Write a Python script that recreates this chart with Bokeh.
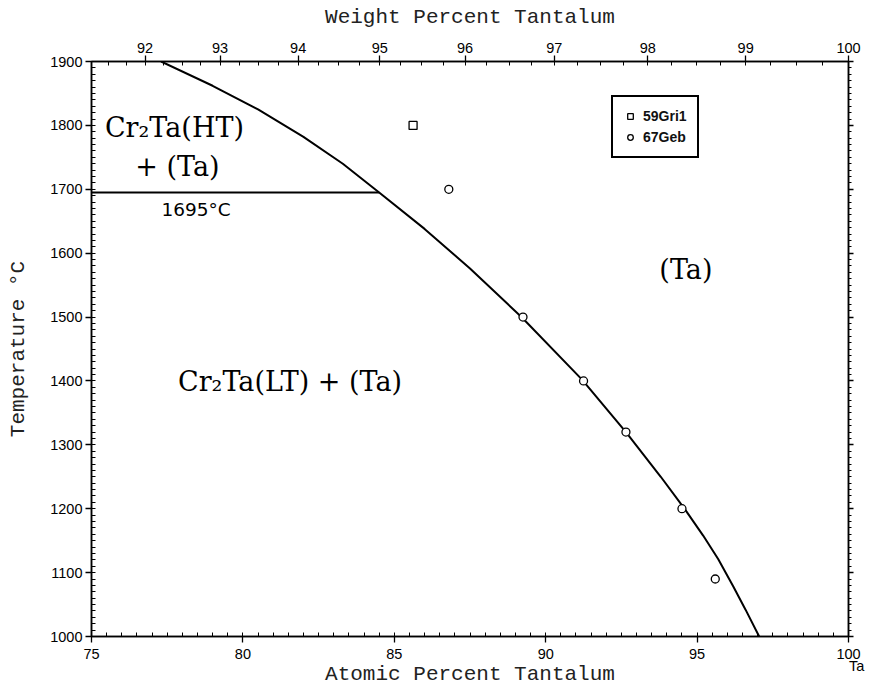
from bokeh.plotting import figure
from bokeh.models import (LinearAxis, FixedTicker, Legend, LegendItem,
                          Range1d, SingleIntervalTicker, CustomJSTickFormatter)
from bokeh.core.properties import value
from bokeh.embed import file_html
from bokeh.resources import INLINE

# ---- data ----
boundary_at = [77.3, 79.0, 80.5, 82.0, 83.3, 84.5, 86.0, 87.5, 89.2, 91.2, 92.65, 93.8, 94.6, 95.2, 95.7, 96.2, 96.6, 97.05]
boundary_T = [1900, 1862, 1825, 1782, 1740, 1695, 1638, 1576, 1500, 1402, 1320, 1250, 1199, 1158, 1121, 1078, 1042, 1000]

eutectoid_at = [75.0, 84.5]
eutectoid_T = [1695, 1695]

gri_at = [85.62]
gri_T = [1800]

geb_at = [86.8, 89.25, 91.25, 92.65, 94.5, 95.6]
geb_T = [1700, 1500, 1400, 1320, 1200, 1090]

at_major = [75, 80, 85, 90, 95, 100]
at_labels = ["75", "80", "85", "90", "95", "100\n\u00a0\u00a0\u00a0\u00a0Ta"]

wt_major = [92, 93, 94, 95, 96, 97, 98, 99, 100]
wt_minor = [91.5 + 0.25 * i for i in range(0, 35)]

M_TA = 180.95
M_CR = 52.00


def wt_to_at(w):
    a = w / M_TA
    b = (100.0 - w) / M_CR
    return 100.0 * a / (a + b)


SERIF = "DejaVu Serif"
MONO = "Liberation Mono"
TICKF = "Liberation Sans"
FRAME_W = 757
FRAME_H = 575

p = figure(frame_width=FRAME_W, frame_height=FRAME_H, output_backend="svg", toolbar_location=None,
           x_range=Range1d(75, 100), y_range=Range1d(1000, 1900),
           min_border_left=91, min_border_right=20, min_border_top=61, min_border_bottom=46,
           x_axis_location=None, y_axis_location=None)
p.grid.visible = False
p.outline_line_color = "black"
p.outline_line_width = 1.5
p.background_fill_color = "white"
p.border_fill_color = "white"


def style(ax, tick_out=6, minor_in=4, minor_out=0, label_standoff=3, axis_standoff=4):
    ax.axis_line_color = "black"
    ax.axis_line_width = 1.5
    ax.major_tick_line_color = "black"
    ax.major_tick_line_width = 1.3
    ax.minor_tick_line_color = "black"
    ax.major_tick_out = tick_out
    ax.major_tick_in = 0
    ax.minor_tick_in = minor_in
    ax.minor_tick_out = minor_out
    ax.major_label_text_font = TICKF
    ax.major_label_text_font_size = "14.5px"
    ax.major_label_text_color = "black"
    ax.axis_label_text_font = MONO
    ax.axis_label_text_font_size = "21px"
    ax.axis_label_text_font_style = "normal"
    ax.axis_label_text_color = "#222222"
    ax.major_label_standoff = label_standoff
    ax.axis_label_standoff = axis_standoff


at_minor = [75 + 0.5 * i for i in range(0, 51)]
bottom = LinearAxis(axis_label="Atomic Percent Tantalum",
                    ticker=FixedTicker(ticks=at_major, minor_ticks=at_minor))
bottom.major_label_overrides = {t: s for t, s in zip(at_major, at_labels)}
style(bottom, label_standoff=3, axis_standoff=-14)
bottom.major_label_text_line_height = 0.8
p.add_layout(bottom, "below")

left = LinearAxis(axis_label="Temperature °C",
                  ticker=SingleIntervalTicker(interval=100, num_minor_ticks=10))
style(left, axis_standoff=17)
p.add_layout(left, "left")

right = LinearAxis(ticker=SingleIntervalTicker(interval=100, num_minor_ticks=10),
                   formatter=CustomJSTickFormatter(code="return ''"))
style(right, tick_out=5, minor_in=0, minor_out=3)
p.add_layout(right, "right")

top_major = [wt_to_at(w) for w in wt_major]
top_minor = [wt_to_at(w) for w in wt_minor if w <= 100]
top = LinearAxis(axis_label="Weight Percent Tantalum",
                 ticker=FixedTicker(ticks=top_major, minor_ticks=top_minor))
top.major_label_overrides = {t: str(w) for t, w in zip(top_major, wt_major)}
style(top, axis_standoff=11)
p.add_layout(top, "above")

# ---- lines ----
p.line(boundary_at, boundary_T, line_color="black", line_width=2)
p.line(eutectoid_at, eutectoid_T, line_color="black", line_width=2)

sq = p.scatter(gri_at, gri_T, marker="square", size=8, fill_color="white",
               line_color="black", line_width=1.3)
ci = p.scatter(geb_at, geb_T, marker="circle", size=8, fill_color="white",
               line_color="black", line_width=1.3)

legend = Legend(items=[LegendItem(label="59Gri1", renderers=[sq]),
                       LegendItem(label="67Geb", renderers=[ci])],
                location=(520, 478), orientation="vertical")
legend.border_line_color = "black"
legend.border_line_alpha = 1.0
legend.border_line_width = 2
legend.label_text_font = "Liberation Sans"
legend.label_text_font_style = "bold"
legend.label_text_font_size = "14px"
legend.label_text_color = "#111111"
legend.padding = 10
legend.spacing = 3
legend.margin = 0
legend.glyph_width = 14
legend.glyph_height = 18
legend.label_standoff = 6
legend.label_height = 18
legend.background_fill_alpha = 1.0
p.add_layout(legend)


# ---- texts ----
def add_text(x, y, txt, size, font=SERIF, align="center", baseline="middle"):
    p.text(x=[x], y=[y], text=[txt], text_font=value(font), text_font_size=size,
           text_align=align, text_baseline=baseline, text_color="black")


add_text(77.74, 1797, "Cr₂Ta(HT)", "27px")
add_text(77.84, 1736, "+ (Ta)", "27px")
add_text(94.63, 1574, "(Ta)", "27px")
add_text(81.84, 1399, "Cr₂Ta(LT)  +  (Ta)", "27px")
add_text(77.31, 1668, "1695°C", "18.5px", font="DejaVu Sans", align="left")

open("out.html", "w").write(file_html(p, INLINE))
